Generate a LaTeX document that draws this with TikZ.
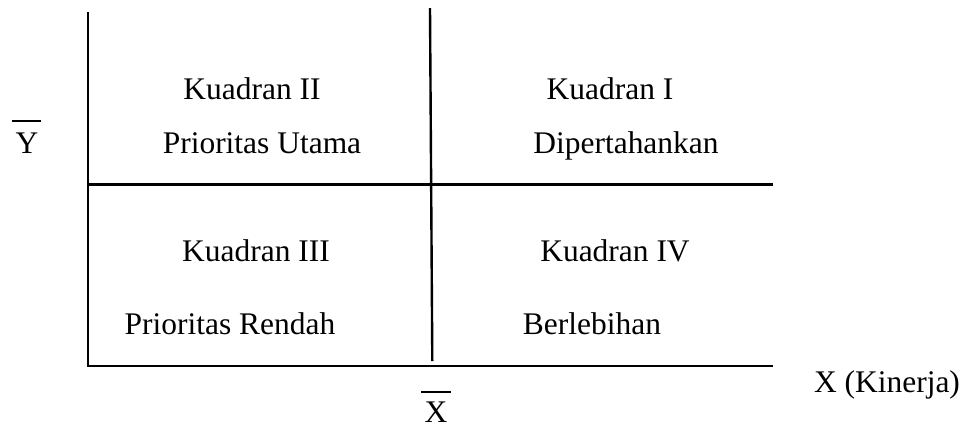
\documentclass[tikz,border=0pt]{standalone}
\usepackage{fontspec}
\setmainfont{Liberation Serif}
\tikzset{
  axisline/.style={line width=1.8pt, black},
  barline/.style={line width=1.3pt, black},
  lbl/.style={anchor=base, inner sep=0pt, font=\fontsize{23.6pt}{28pt}\selectfont},
}
\begin{document}
\begin{tikzpicture}[x=0.75pt, y=-0.75pt]
  \useasboundingbox (0,0) rectangle (968,426);

  % quadrant frame
  \coordinate (ltop) at (88,12);
  \coordinate (lbot) at (88,366);
  \coordinate (bend) at (773,366);
  \coordinate (mtop) at (430,8);
  \coordinate (mbot) at (432.3,361);
  \coordinate (hl) at (88,184.5);
  \coordinate (hr) at (773,184.5);
  \draw[axisline] (ltop) -- (lbot) -- (bend);
  \draw[axisline] (mtop) -- (mbot);
  \draw[axisline] (hl) -- (hr);

  % quadrant labels
  \node[lbl] (k2) at (252,99) {Kuadran II};
  \node[lbl] (p2) at (262,153) {Prioritas Utama};
  \node[lbl] (k1) at (610,99) {Kuadran I};
  \node[lbl] (p1) at (626,153) {Dipertahankan};
  \node[lbl] (k3) at (256,261) {Kuadran III};
  \node[lbl] (p3) at (230,334) {Prioritas Rendah};
  \node[lbl] (k4) at (615,261) {Kuadran IV};
  \node[lbl] (p4) at (592,334) {Berlebihan};

  % axis labels
  \node[lbl] (xk) at (887,392) {X (Kinerja)};
  \node[lbl] (ymean) at (27,153) {Y};
  \node[lbl] (xmean) at (436,422) {X};
  \draw[barline] (12,120.7) -- (41,120.7);
  \draw[barline] (421,391.7) -- (451,391.7);
\end{tikzpicture}
\end{document}
